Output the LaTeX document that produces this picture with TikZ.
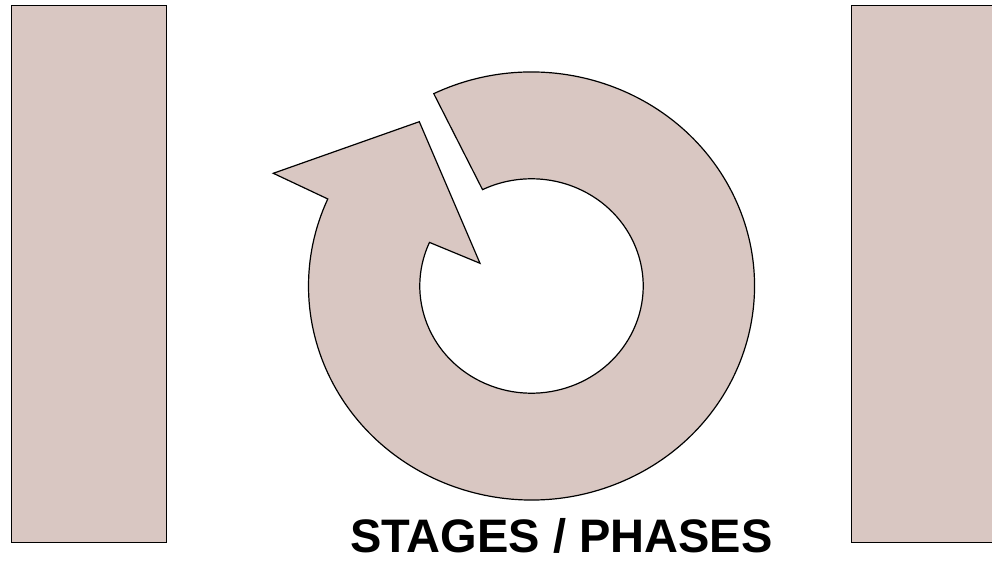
\documentclass[tikz,border=0pt]{standalone}
\usepackage{fontspec}
\setmainfont{Liberation Sans}
\usetikzlibrary{calc}
\definecolor{stagefill}{RGB}{217,199,194}

\begin{document}
\begin{tikzpicture}[
    x=1pt, y=1pt,
    panel/.style={rectangle, draw, line width=1.2pt, fill=stagefill, inner sep=0pt,
                  minimum width=155pt, minimum height=537pt},
    ring/.style={draw, line width=1.2pt, fill=stagefill, line join=miter},
    caption/.style={font=\fontsize{47}{52}\selectfont\bfseries, inner sep=0pt}
]
\useasboundingbox (0,0) rectangle (992,561);

% --- Ring geometry ---
\def\cx{531.5}  % centre
\def\cy{275}
\def\ro{223}    % outer radii
\def\rro{214}
\def\ri{111.7}  % inner radii
\def\rri{107.2}

% --- Side panels ---
\node[panel, anchor=south west] (leftpanel)  at (10.5, 18) {};
\node[panel, anchor=south west] (rightpanel) at (851, 18) {};

% --- Cycle arrow ---
\coordinate (hub) at (\cx, \cy);
\coordinate (headout) at (273.3, 387.7);
\coordinate (headtip) at (419.3, 439.3);
\coordinate (headin)  at (480, 297.7);
\draw[ring] ($(hub)+(116:\ro\space and \rro)$)
    arc[start angle=116, end angle=-204, x radius=\ro, y radius=\rro]
    -- (headout) -- (headtip) -- (headin)
    -- ($(hub)+(-204:\ri\space and \rri)$)
    arc[start angle=-204, end angle=116, x radius=\ri, y radius=\rri]
    -- cycle;

% --- Caption ---
\node[caption, anchor=base] (title) at (561.5, 8) {STAGES / PHASES};

\end{tikzpicture}
\end{document}
